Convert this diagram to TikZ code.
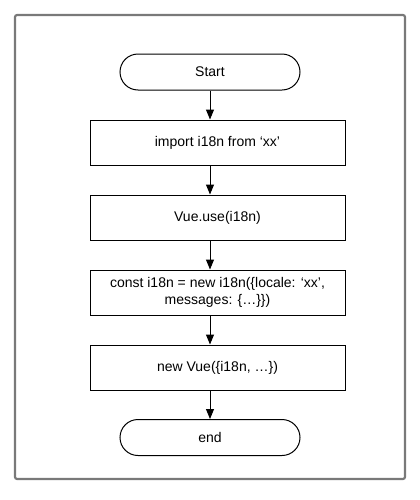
\documentclass[tikz,border=0pt]{standalone}
\usepackage{fontspec}
\setmainfont{Liberation Sans}
\usetikzlibrary{arrows.meta}
\begin{document}
\begin{tikzpicture}[x=0.75pt,y=-0.75pt,
  every node/.style={font=\fontsize{10.5pt}{12.5pt}\selectfont, inner sep=0pt, align=center},
  stepbox/.style={draw=black, line width=0.75pt, minimum width=191.25pt, minimum height=33.75pt},
  termbox/.style={draw=black, line width=0.75pt, rounded corners=13.5pt, minimum width=135pt, minimum height=27pt},
  flow/.style={draw=black, line width=0.75pt, -{Triangle[length=7.5pt,width=6pt]}}]
\useasboundingbox (0,0) rectangle (420,500);
\draw[draw=gray!95!black, line width=1.6pt, rounded corners=1.5pt] (15,15) rectangle (405,479);
\node[termbox] (start) at (210,72) {Start};
\node[stepbox] (imp) at (217.5,142.5) {import i18n from ‘xx’};
\node[stepbox] (use) at (217.5,217.5) {Vue.use(i18n)};
\node[stepbox] (cst) at (217.5,292.5) {const i18n = new i18n(\{locale: ‘xx’,\\messages: \{…\}\})};
\node[stepbox] (nv) at (217.5,367.5) {new Vue(\{i18n, …\})};
\node[termbox] (end) at (210,437.5) {end};
\draw[flow] (start.south) -- (start.south |- imp.north);
\draw[flow] (imp.south -| start.south) -- (start.south |- use.north);
\draw[flow] (use.south -| start.south) -- (start.south |- cst.north);
\draw[flow] (cst.south -| start.south) -- (start.south |- nv.north);
\draw[flow] (nv.south -| start.south) -- (end.north);
\end{tikzpicture}
\end{document}
